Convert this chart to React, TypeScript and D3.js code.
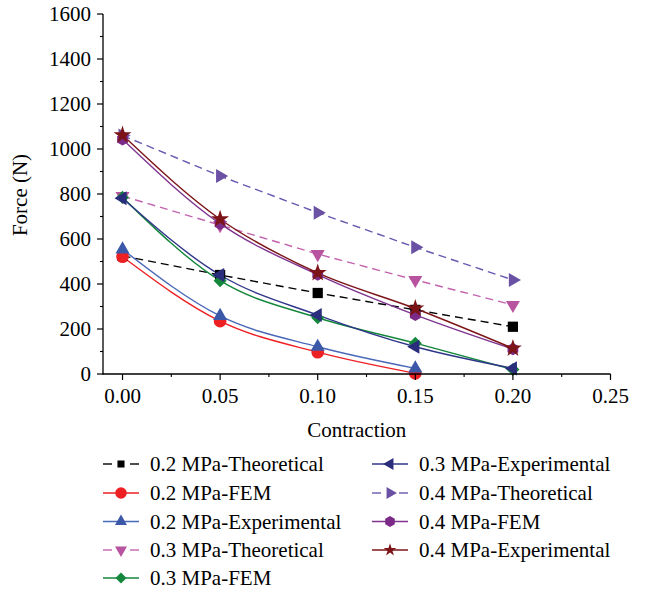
import React from 'react';
import * as d3 from 'd3';

const contraction = [0, 0.05, 0.1, 0.15, 0.2];
const theo02 = [525, 440, 360, 285, 210];
const fem02 = [521, 235, 97, 3];
const exp02 = [554, 258, 121, 25];
const theo03 = [791, 662, 533, 418, 307];
const fem03 = [785, 415, 250, 137, 20];
const exp03 = [781, 440, 262, 121, 25];
const theo04 = [1060, 880, 717, 563, 418];
const fem04 = [1043, 668, 442, 263, 111];
const exp04 = [1062, 688, 449, 291, 114];

const xTicks = [0, 0.05, 0.1, 0.15, 0.2, 0.25];
const xMinor = [0.025, 0.075, 0.125, 0.175, 0.225];
const yTicks = [0, 200, 400, 600, 800, 1000, 1200, 1400, 1600];
const yMinor = [100, 300, 500, 700, 900, 1100, 1300, 1500];

const FONT = '"Liberation Serif", "Times New Roman", serif';

const hexagon = {
  draw(ctx: any, size: number) {
    const r = Math.sqrt((size * 2) / (3 * Math.sqrt(3)));
    for (let i = 0; i < 6; i++) {
      const a = (Math.PI / 3) * i - Math.PI / 2;
      const x = r * Math.cos(a), y = r * Math.sin(a);
      if (i === 0) ctx.moveTo(x, y); else ctx.lineTo(x, y);
    }
    ctx.closePath();
  },
};

type Series = {
  name: string; values: number[]; color: string; lineColor: string;
  dashed: boolean; shape: any; rotate: number; size: number; lsize: number;
};

const series: Series[] = [
  { name: '0.2 MPa-Theoretical', values: theo02, color: '#000000', lineColor: '#000000', dashed: true, shape: d3.symbolSquare, rotate: 0, size: 105, lsize: 50 },
  { name: '0.2 MPa-FEM', values: fem02, color: '#ed2024', lineColor: '#ed2024', dashed: false, shape: d3.symbolCircle, rotate: 0, size: 125, lsize: 105 },
  { name: '0.2 MPa-Experimental', values: exp02, color: '#3b58a8', lineColor: '#4a68b8', dashed: false, shape: d3.symbolTriangle, rotate: 0, size: 85, lsize: 62 },
  { name: '0.3 MPa-Theoretical', values: theo03, color: '#b7539f', lineColor: '#c462ae', dashed: true, shape: d3.symbolTriangle, rotate: 180, size: 85, lsize: 62 },
  { name: '0.3 MPa-FEM', values: fem03, color: '#14873c', lineColor: '#14873c', dashed: false, shape: d3.symbolSquare, rotate: 45, size: 85, lsize: 60 },
  { name: '0.3 MPa-Experimental', values: exp03, color: '#2a2d7c', lineColor: '#2f3589', dashed: false, shape: d3.symbolTriangle, rotate: -90, size: 85, lsize: 62 },
  { name: '0.4 MPa-Theoretical', values: theo04, color: '#6a51a3', lineColor: '#6a57b0', dashed: true, shape: d3.symbolTriangle, rotate: 90, size: 85, lsize: 62 },
  { name: '0.4 MPa-FEM', values: fem04, color: '#7b2a88', lineColor: '#7f3590', dashed: false, shape: hexagon, rotate: 0, size: 100, lsize: 80 },
  { name: '0.4 MPa-Experimental', values: exp04, color: '#7c1417', lineColor: '#7c1417', dashed: false, shape: d3.symbolStar, rotate: 0, size: 100, lsize: 50 },
];

export default function App() {
  const W = 653, H = 592;
  const x = d3.scaleLinear().domain([-0.01, 0.25]).range([103, 610.5]);
  const y = d3.scaleLinear().domain([0, 1600]).range([374, 14]);
  const fs = 21;

  const legendRows = [464, 493, 521.5, 550, 578];

  return (
    <svg width={W} height={H} style={{ position: 'absolute', left: 0, top: 0, background: '#fff' }} fontFamily={FONT}>
      {series.map((s, i) => {
        const pts: [number, number][] = s.values.map((v, j) => [x(contraction[j]), y(v)]);
        const line = d3.line().curve(s.dashed ? d3.curveLinear : d3.curveMonotoneX)(pts) || '';
        return (
          <path key={'s' + i} d={line} fill="none" stroke={s.lineColor} strokeWidth={1.4} strokeDasharray={s.dashed ? '8,5' : undefined} />
        );
      })}
      {series.map((s, i) => {
        const sym = d3.symbol().type(s.shape).size(s.size)() || '';
        return (
          <g key={'m' + i}>
            {s.values.map((v, j) => (
              <path key={j} d={sym} fill={s.color} transform={`translate(${x(contraction[j])},${y(v)}) rotate(${s.rotate})`} />
            ))}
          </g>
        );
      })}

      <line x1={103} x2={103} y1={y(1600)} y2={374.5} stroke="#000" strokeWidth={1.3} />
      <line x1={102.5} x2={x(0.25)} y1={374} y2={374} stroke="#000" strokeWidth={1.3} />
      {yTicks.map((t) => (
        <g key={'yt' + t}>
          <line x1={97} x2={103} y1={y(t)} y2={y(t)} stroke="#000" strokeWidth={1.2} />
          <text x={91} y={y(t)} dy="0.35em" textAnchor="end" fontSize={fs}>{t}</text>
        </g>
      ))}
      {yMinor.map((t) => (
        <line key={'ym' + t} x1={100} x2={103} y1={y(t)} y2={y(t)} stroke="#000" strokeWidth={1.1} />
      ))}
      {xTicks.map((t) => (
        <g key={'xt' + t}>
          <line x1={x(t)} x2={x(t)} y1={374} y2={380} stroke="#000" strokeWidth={1.2} />
          <text x={x(t)} y={403} textAnchor="middle" fontSize={fs}>{t.toFixed(2)}</text>
        </g>
      ))}
      {xMinor.map((t) => (
        <line key={'xm' + t} x1={x(t)} x2={x(t)} y1={374} y2={377} stroke="#000" strokeWidth={1.1} />
      ))}
      <text x={x(0.12)} y={437} textAnchor="middle" fontSize={fs}>Contraction</text>
      <text transform={`translate(27,195) rotate(-90)`} textAnchor="middle" fontSize={fs}>Force (N)</text>

      {series.map((s, i) => {
        const col = i < 5 ? 0 : 1;
        const row = i < 5 ? i : i - 5;
        const lx = col === 0 ? 103 : 372;
        const ly = legendRows[row];
        const sym = d3.symbol().type(s.shape).size(s.lsize)() || '';
        return (
          <g key={'l' + i}>
            {s.dashed ? (
              <>
                <line x1={lx} x2={lx + 9} y1={ly} y2={ly} stroke={s.lineColor} strokeWidth={1.4} />
                <line x1={lx + 27} x2={lx + 36} y1={ly} y2={ly} stroke={s.lineColor} strokeWidth={1.4} />
              </>
            ) : (
              <line x1={lx} x2={lx + 36} y1={ly} y2={ly} stroke={s.lineColor} strokeWidth={1.4} />
            )}
            <path d={sym} fill={s.color} transform={`translate(${lx + 18},${ly}) rotate(${s.rotate})`} />
            <text x={lx + 47} y={ly} dy="0.35em" fontSize={fs}>{s.name}</text>
          </g>
        );
      })}
    </svg>
  );
}
